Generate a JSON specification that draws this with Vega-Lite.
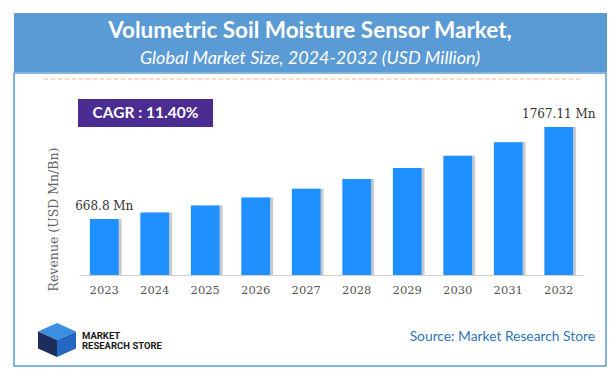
{
  "$schema": "https://vega.github.io/schema/vega-lite/v6.json",
  "background": "white",
  "padding": {"left": 13, "top": 12, "right": 11, "bottom": 14},
  "spacing": 0,
  "config": {"view": {"stroke": null}},
  "vconcat": [
    {
      "width": 592,
      "height": 58,
      "view": {"fill": "#5B9BD5", "stroke": "#5B9BD5"},
      "data": {"values": [
        {"line": "title", "text": "Volumetric Soil Moisture Sensor Market,"},
        {"line": "subtitle", "text": "Global Market Size, 2024-2032 (USD Million)"}
      ]},
      "encoding": {
        "y": {"field": "line", "type": "nominal", "scale": {"type": "point", "domain": ["title", "subtitle"], "range": [18, 46], "padding": 0}, "axis": null},
        "text": {"field": "text"}
      },
      "layer": [
        {"transform": [{"filter": "datum.line == 'title'"}],
         "mark": {"type": "text", "font": "Lato", "fontWeight": "bold", "fontSize": 22.5, "color": "white", "baseline": "middle"}},
        {"transform": [{"filter": "datum.line == 'subtitle'"}],
         "mark": {"type": "text", "font": "Lato", "fontStyle": "italic", "fontSize": 18, "color": "white", "baseline": "middle"}}
      ]
    },
    {
      "width": 592,
      "height": 293,
      "view": {"stroke": "#5B9BD5", "strokeWidth": 1.5, "fill": "white"},
      "layer": [
        {
          "data": {"values": [
            {"year": "2023", "value": 668.8, "label": "668.8 Mn"},
            {"year": "2024", "value": 745.1},
            {"year": "2025", "value": 830.0},
            {"year": "2026", "value": 924.6},
            {"year": "2027", "value": 1030.0},
            {"year": "2028", "value": 1147.4},
            {"year": "2029", "value": 1278.2},
            {"year": "2030", "value": 1423.9},
            {"year": "2031", "value": 1586.2},
            {"year": "2032", "value": 1767.11, "label": "1767.11 Mn"}
          ]},
          "encoding": {
            "x": {"field": "year", "type": "ordinal",
                  "scale": {"type": "band", "range": [65, 570], "paddingInner": 0.43, "paddingOuter": 0.215},
                  "axis": {"orient": "bottom", "offset": -91, "title": null, "ticks": false, "labelPadding": 9,
                           "labelFont": "DejaVu Serif", "labelFontSize": 11.5, "labelColor": "#555",
                           "domainColor": "#d0d0d0", "grid": false, "labelAngle": 0}},
            "y": {"field": "value", "type": "quantitative",
                  "scale": {"domain": [0, 2054], "range": [202, 30], "nice": false, "zero": true},
                  "axis": {"orient": "left", "labels": false, "ticks": false, "domain": false, "grid": false,
                           "title": "Revenue (USD Mn/Bn)", "titleFont": "DejaVu Serif", "titleFontSize": 12.5,
                           "titleFontWeight": "normal", "titleColor": "#666", "titleX": 39, "titleY": 146,
                           "titleBaseline": "middle", "titleAngle": -90}}
          },
          "layer": [
            {"mark": {"type": "bar", "color": "#666", "opacity": 0.35, "xOffset": 3}},
            {"mark": {"type": "bar", "color": "#1E90FF"}},
            {"transform": [{"filter": "isValid(datum.label)"}],
             "mark": {"type": "text", "baseline": "alphabetic", "dy": -9, "font": "DejaVu Serif", "fontSize": 12, "color": "#333"},
             "encoding": {"text": {"field": "label"}}}
          ]
        },
        {
          "data": {"values": [{"note": "divider"}]},
          "mark": {"type": "rule", "color": "#F4B183", "strokeDash": [4, 3], "strokeWidth": 1},
          "encoding": {
            "x": {"datum": "left", "type": "nominal", "scale": {"type": "point", "domain": ["left", "right"], "range": [30, 567], "padding": 0}, "axis": null},
            "x2": {"datum": "right"},
            "y": {"field": "note", "type": "nominal", "scale": {"type": "point", "range": [6, 6], "padding": 0}, "axis": null}
          }
        },
        {
          "data": {"values": [{"note": "CAGR : 11.40%"}]},
          "encoding": {
            "x": {"field": "note", "type": "nominal", "scale": {"type": "band", "range": [64, 199], "padding": 0}, "axis": null},
            "y": {"field": "note", "type": "nominal", "scale": {"type": "band", "range": [26, 54], "padding": 0}, "axis": null}
          },
          "layer": [
            {"mark": {"type": "rect", "color": "#4B2C91"}},
            {"mark": {"type": "text", "font": "Lato", "fontWeight": "bold", "fontSize": 15.5, "color": "white", "baseline": "middle"},
             "encoding": {"text": {"field": "note"}}}
          ]
        },
        {
          "data": {"values": [{"part": "top"}, {"part": "left"}, {"part": "right"}]},
          "mark": {"type": "point", "filled": true, "opacity": 1, "size": 1444, "strokeWidth": 0},
          "encoding": {
            "x": {"datum": "logo", "type": "nominal", "scale": {"type": "point", "range": [43, 43], "padding": 0}, "axis": null},
            "y": {"datum": "logo", "type": "nominal", "scale": {"type": "point", "range": [267, 267], "padding": 0}, "axis": null},
            "shape": {"field": "part", "type": "nominal", "legend": null,
                      "scale": {"domain": ["top", "left", "right"],
                                "range": ["M0,-0.9L1,-0.45L0,0L-1,-0.45Z", "M-1,-0.45L0,0L0,0.9L-1,0.45Z", "M1,-0.45L0,0L0,0.9L1,0.45Z"]}},
            "color": {"field": "part", "type": "nominal", "legend": null,
                      "scale": {"domain": ["top", "left", "right"], "range": ["#3B8EE0", "#1C2F5C", "#2467C2"]}}
          }
        },
        {
          "data": {"values": [{"line": "MARKET"}, {"line": "RESEARCH STORE"}]},
          "mark": {"type": "text", "align": "left", "baseline": "middle", "font": "Roboto", "fontWeight": "bold", "fontSize": 9.5, "color": "#1a1a1a"},
          "encoding": {
            "x": {"datum": "logo", "type": "nominal", "scale": {"type": "point", "range": [68, 68], "padding": 0}, "axis": null},
            "y": {"field": "line", "type": "nominal", "scale": {"type": "point", "domain": ["MARKET", "RESEARCH STORE"], "range": [263, 272.5], "padding": 0}, "axis": null},
            "text": {"field": "line"}
          }
        },
        {
          "data": {"values": [{"note": "Source: Market Research Store"}]},
          "mark": {"type": "text", "align": "right", "baseline": "middle", "font": "Lato", "fontSize": 13.8, "color": "#2E75B6"},
          "encoding": {
            "x": {"field": "note", "type": "nominal", "scale": {"type": "point", "range": [581, 581], "padding": 0}, "axis": null},
            "y": {"field": "note", "type": "nominal", "scale": {"type": "point", "range": [264, 264], "padding": 0}, "axis": null},
            "text": {"field": "note"}
          }
        }
      ],
      "resolve": {"scale": {"x": "independent", "y": "independent"}, "axis": {"x": "independent", "y": "independent"}}
    }
  ]
}
